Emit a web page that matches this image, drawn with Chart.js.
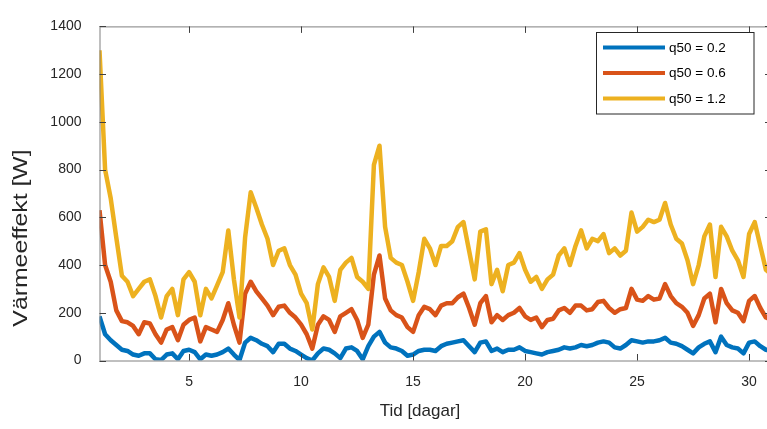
<!DOCTYPE html>
<html lang="sv">
  <head>
    <meta charset="UTF-8" />
    <title>Värmeeffekt</title>
    <script src="https://cdn.jsdelivr.net/npm/chart.js"></script>
    <style>
      body {
        margin: 0;
        background: #fff;
        overflow: hidden;
      }
      .wrap {
        position: relative;
        width: 773px;
        height: 429px;
      }
    </style>
  </head>
  <body>
    <div class="wrap"><canvas id="heatChart" width="773" height="429"></canvas></div>

    <script>
      // time axis, 6 h steps
      const days = [
        1, 1.25, 1.5, 1.75, 2, 2.25, 2.5, 2.75, 3, 3.25, 3.5, 3.75,
        4, 4.25, 4.5, 4.75, 5, 5.25, 5.5, 5.75, 6, 6.25, 6.5, 6.75,
        7, 7.25, 7.5, 7.75, 8, 8.25, 8.5, 8.75, 9, 9.25, 9.5, 9.75,
        10, 10.25, 10.5, 10.75, 11, 11.25, 11.5, 11.75, 12, 12.25, 12.5, 12.75,
        13, 13.25, 13.5, 13.75, 14, 14.25, 14.5, 14.75, 15, 15.25, 15.5, 15.75,
        16, 16.25, 16.5, 16.75, 17, 17.25, 17.5, 17.75, 18, 18.25, 18.5, 18.75,
        19, 19.25, 19.5, 19.75, 20, 20.25, 20.5, 20.75, 21, 21.25, 21.5, 21.75,
        22, 22.25, 22.5, 22.75, 23, 23.25, 23.5, 23.75, 24, 24.25, 24.5, 24.75,
        25, 25.25, 25.5, 25.75, 26, 26.25, 26.5, 26.75, 27, 27.25, 27.5, 27.75,
        28, 28.25, 28.5, 28.75, 29, 29.25, 29.5, 29.75, 30, 30.25, 30.5, 30.75,
        31,
      ];

      const q02 = [
        185, 110, 85, 65, 45, 40, 25, 20, 30, 30, 5, 2,
        25, 30, 5, 40, 45, 35, 5, 25, 20, 25, 35, 50,
        25, 2, 75, 95, 85, 70, 60, 35, 70, 70, 50, 40,
        25, 10, 0, 30, 50, 45, 30, 10, 50, 55, 40, 5,
        60, 100, 120, 75, 55, 50, 40, 20, 25, 40, 45, 45,
        40, 60, 70, 75, 80, 85, 60, 35, 75, 80, 40, 50,
        35, 45, 45, 55, 40, 35, 30, 25, 35, 40, 45, 55,
        50, 55, 65, 60, 65, 75, 80, 75, 55, 50, 65, 85,
        80, 75, 80, 80, 85, 95, 75, 70, 60, 45, 30, 55,
        70, 80, 35, 100, 65, 55, 50, 30, 75, 80, 60, 45,
        40,
      ];

      const q06 = [
        630, 400, 330, 210, 165, 160, 145, 110, 160, 155, 110, 75,
        130, 140, 85, 150, 170, 180, 80, 140, 130, 120, 170, 240,
        150, 75, 280, 330, 290, 260, 230, 190, 225, 230, 200, 180,
        150, 110, 50, 150, 185, 170, 120, 185, 200, 215, 170, 95,
        150, 360, 440, 260, 210, 190, 180, 140, 120, 190, 225, 215,
        190, 230, 240, 240, 265, 280, 220, 150, 240, 270, 160, 190,
        170, 190, 200, 220, 185, 170, 180, 140, 170, 175, 210, 220,
        200, 230, 230, 210, 215, 245, 250, 220, 200, 215, 220, 300,
        255, 250, 270, 255, 260, 320, 270, 240, 225, 200, 145, 190,
        260, 280, 160, 300, 240, 210, 200, 165, 250, 270, 220, 180,
        170,
      ];

      const q12 = [
        1300, 800, 680, 515, 355, 330, 270, 300, 330, 340, 270, 180,
        270, 300, 190, 340, 370, 330, 190, 300, 260, 315, 370, 545,
        340, 180, 515, 705, 640, 570, 510, 400, 460, 470, 400, 360,
        280, 240, 130, 320, 390, 350, 250, 380, 410, 430, 350, 330,
        300, 820, 900, 560, 430, 410, 400, 330, 250, 370, 510, 470,
        400, 480, 480, 500, 560, 580, 460, 340, 540, 550, 320, 380,
        290, 400, 410, 450, 380, 330, 350, 300, 340, 360, 440, 470,
        400, 480, 545, 470, 510, 500, 530, 450, 470, 440, 460, 620,
        540, 560, 590, 580, 590, 660, 570, 510, 490, 420, 320, 400,
        520, 570, 350, 560, 520, 460, 420, 350, 530, 580, 480, 380,
        360,
      ];

      const seriesLabels = ["q50 = 0.2", "q50 = 0.6", "q50 = 1.2"];
      const xTicks = [5, 10, 15, 20, 25, 30];
      const yTicks = [0, 200, 400, 600, 800, 1000, 1200, 1400];

      const colors = ["#0072BD", "#D95319", "#EDB120"];
      const font = "Arial, 'Liberation Sans', sans-serif";

      function toPoints(vals) {
        return days.map((d, i) => ({ x: d, y: vals[i] }));
      }

      // box, inward ticks, axis titles and legend (MATLAB look)
      const matlabAxes = {
        id: "matlabAxes",
        afterDatasetsDraw(chart) {
          const ctx = chart.ctx;
          const a = chart.chartArea;
          const xs = chart.scales.x;
          const ys = chart.scales.y;
          const tl = 6.5;
          ctx.save();
          ctx.strokeStyle = "#808080";
          ctx.lineWidth = 1;
          ctx.strokeRect(a.left + 0.5, a.top + 0.5, a.right - a.left, a.bottom - a.top);
          ctx.strokeStyle = "#404040";
          ctx.beginPath();
          xTicks.forEach((v) => {
            const px = Math.round(xs.getPixelForValue(v)) + 0.5;
            ctx.moveTo(px, a.bottom);
            ctx.lineTo(px, a.bottom - tl);
            ctx.moveTo(px, a.top);
            ctx.lineTo(px, a.top + tl);
          });
          yTicks.forEach((v) => {
            const py = Math.round(ys.getPixelForValue(v)) + 0.5;
            ctx.moveTo(a.left, py);
            ctx.lineTo(a.left + tl, py);
            ctx.moveTo(a.right, py);
            ctx.lineTo(a.right - tl, py);
          });
          ctx.stroke();

          // axis titles
          ctx.fillStyle = "#262626";
          ctx.font = "17px " + font;
          ctx.textAlign = "center";
          ctx.textBaseline = "middle";
          ctx.fillText("Tid [dagar]", 420, 411);
          ctx.translate(21, 238);
          ctx.rotate(-Math.PI / 2);
          ctx.scale(1.24, 1);
          ctx.font = "20px " + font;
          ctx.fillText("Värmeeffekt [W]", 0, 0);
          ctx.restore();

          // legend
          ctx.save();
          ctx.fillStyle = "#fff";
          ctx.fillRect(596.5, 32.5, 157.5, 81.5);
          ctx.strokeStyle = "#262626";
          ctx.lineWidth = 1;
          ctx.strokeRect(596.5, 32.5, 157.5, 81.5);
          const rows = [47.5, 73, 98.5];
          chart.data.datasets.forEach((ds, i) => {
            ctx.strokeStyle = ds.borderColor;
            ctx.lineWidth = 4;
            ctx.beginPath();
            ctx.moveTo(603, rows[i]);
            ctx.lineTo(665, rows[i]);
            ctx.stroke();
            ctx.fillStyle = "#000";
            ctx.font = "13.5px " + font;
            ctx.textAlign = "left";
            ctx.textBaseline = "middle";
            ctx.fillText(ds.label, 669, rows[i] + 0.5);
          });
          ctx.restore();
        },
      };

      const ctx = document.getElementById("heatChart").getContext("2d");
      new Chart(ctx, {
        type: "line",
        data: {
          datasets: [q02, q06, q12].map((vals, i) => ({
            label: seriesLabels[i],
            data: toPoints(vals),
            borderColor: colors[i],
            backgroundColor: colors[i],
            borderWidth: 4.5,
            pointRadius: 0,
            tension: 0,
            borderJoinStyle: "round",
            order: 3 - i,
          })),
        },
        options: {
          responsive: false,
          animation: false,
          layout: { padding: { top: 16, right: 1.5, left: 0, bottom: 0 } },
          plugins: { legend: { display: false }, tooltip: { enabled: false } },
          scales: {
            x: {
              type: "linear",
              min: 1,
              max: 31,
              afterBuildTicks: (s) => {
                s.ticks = xTicks.map((v) => ({ value: v }));
              },
              afterFit: (s) => {
                s.height = 68.5;
              },
              grid: { display: false, drawTicks: false },
              border: { display: false },
              ticks: {
                color: "#262626",
                font: { family: font, size: 14 },
                padding: 13,
                maxRotation: 0,
                callback: (v) => String(v),
              },
            },
            y: {
              min: 0,
              max: 1400,
              afterBuildTicks: (s) => {
                s.ticks = yTicks.map((v) => ({ value: v }));
              },
              afterFit: (s) => {
                s.width = 99.5;
              },
              grid: { display: false, drawTicks: false },
              border: { display: false },
              ticks: {
                color: "#262626",
                font: { family: font, size: 14 },
                padding: 18,
                callback: (v) => String(v),
              },
            },
          },
        },
        plugins: [matlabAxes],
      });
    </script>
  </body>
</html>
